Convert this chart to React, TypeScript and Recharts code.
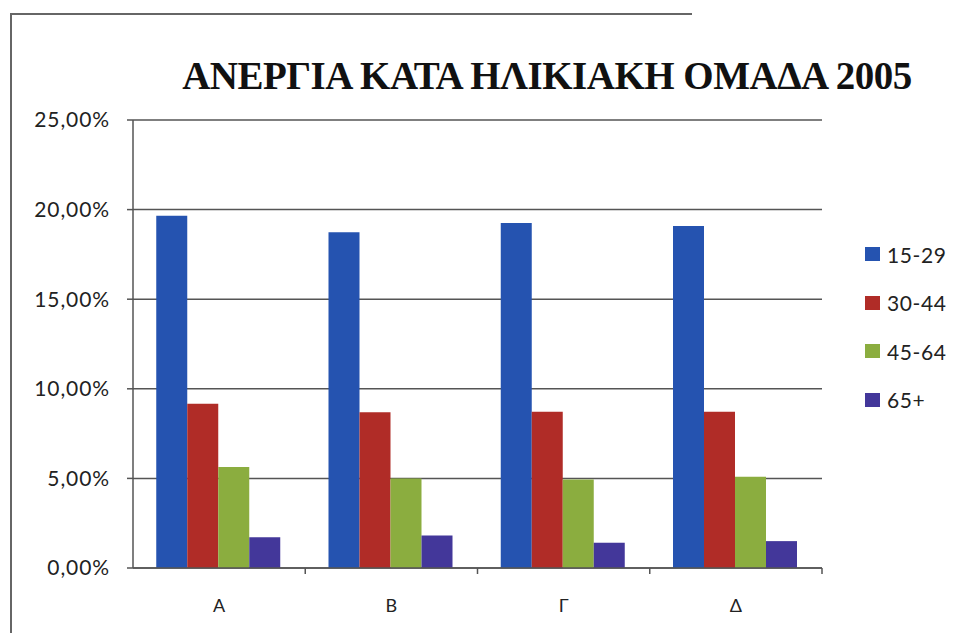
import React from "react";
import { BarChart, Bar, XAxis, YAxis, CartesianGrid } from "recharts";

const regions = ["Α", "Β", "Γ", "Δ"];
const age15to29 = [19.65, 18.73, 19.25, 19.08];
const age30to44 = [9.17, 8.69, 8.72, 8.72];
const age45to64 = [5.64, 4.99, 4.94, 5.09];
const age65plus = [1.71, 1.82, 1.41, 1.5];
const yTicks = [0, 5, 10, 15, 20, 25];

const seriesDefs = [
  { key: "15-29", color: "#2553b0" },
  { key: "30-44", color: "#b02c27" },
  { key: "45-64", color: "#8bad3f" },
  { key: "65+", color: "#43379a" },
];

const data = regions.map((r, i) => ({
  name: r,
  "15-29": age15to29[i],
  "30-44": age30to44[i],
  "45-64": age45to64[i],
  "65+": age65plus[i],
}));

const W = 964;
const H = 633;
const PLOT_LEFT = 133;
const PLOT_RIGHT = 822;
const BAND = (PLOT_RIGHT - PLOT_LEFT) / regions.length;
const AXIS_COLOR = "#555";
const LABEL_FONT = "Lato, 'Open Sans', sans-serif";

const fmtPct = (v: number) => v.toFixed(2).replace(".", ",") + "%";

// category label in the middle, tick mark on the band boundary
const CategoryTick = (props: any) => {
  const { x, y, payload } = props;
  return (
    <g>
      <line x1={x + BAND / 2} x2={x + BAND / 2} y1={y - 8} y2={y - 2} stroke={AXIS_COLOR} strokeWidth={1.5} />
      <text x={x} y={y + 36} textAnchor="middle" fontSize={18} fill="#222" fontFamily={LABEL_FONT}>
        {payload.value}
      </text>
    </g>
  );
};

const LegendBox = () => (
  <div style={{ fontFamily: LABEL_FONT }}>
    {seriesDefs.map((s) => (
      <div key={s.key} style={{ display: "flex", alignItems: "center", height: 48.5 }}>
        <span style={{ width: 15, height: 14, background: s.color, display: "inline-block", marginRight: 7 }} />
        <span style={{ fontSize: 21, color: "#222", letterSpacing: 0.6 }}>{s.key}</span>
      </div>
    ))}
  </div>
);

export default function App() {
  return (
    <div style={{ position: "absolute", left: 0, top: 0, width: W, height: H, background: "#fff", overflow: "hidden" }}>
      {/* scanned frame */}
      <div style={{ position: "absolute", left: 10, top: 13, width: 680, height: 640, borderLeft: "2px solid #666", borderTop: "2px solid #666" }} />
      <div
        style={{
          position: "absolute",
          left: 0,
          width: W,
          top: 53,
          textAlign: "center",
          paddingLeft: 130,
          boxSizing: "border-box",
          fontFamily: "'Liberation Serif', 'Times New Roman', serif",
          fontWeight: "bold",
          fontSize: 39,
          letterSpacing: -0.5,
          color: "#111",
          whiteSpace: "nowrap",
        }}
      >
        ΑΝΕΡΓΙΑ ΚΑΤΑ ΗΛΙΚΙΑΚΗ ΟΜΑΔΑ 2005
      </div>
      <div style={{ position: "absolute", left: 865, top: 230 }}>
        <LegendBox />
      </div>
      <BarChart
        width={W}
        height={H}
        data={data}
        margin={{ top: 120, right: W - PLOT_RIGHT, left: PLOT_LEFT - 70, bottom: 35 }}
        barGap={0}
        barCategoryGap="13.5%"
      >
        <CartesianGrid vertical={false} stroke={AXIS_COLOR} strokeWidth={1.5} />
        <XAxis
          dataKey="name"
          height={30}
          stroke={AXIS_COLOR}
          strokeWidth={1.5}
          tickLine={false}
          tick={<CategoryTick />}
          interval={0}
        />
        <YAxis
          width={70}
          domain={[0, 25]}
          ticks={yTicks}
          tickFormatter={fmtPct}
          stroke={AXIS_COLOR}
          strokeWidth={1.5}
          tickSize={6}
          tickMargin={17}
          tick={{ fontSize: 21, fill: "#222", fontFamily: LABEL_FONT, letterSpacing: 0.9 }}
        />
        {seriesDefs.map((s) => (
          <Bar key={s.key} dataKey={s.key} fill={s.color} isAnimationActive={false} />
        ))}
      </BarChart>
    </div>
  );
}
